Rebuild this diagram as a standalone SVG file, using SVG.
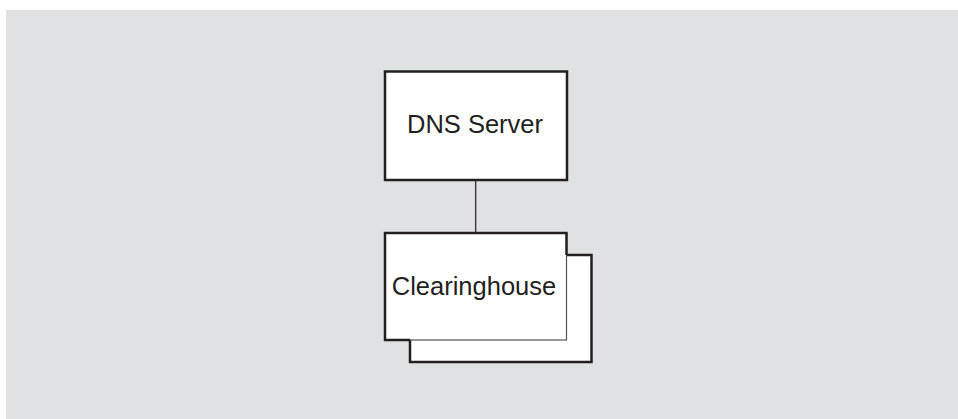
<svg xmlns="http://www.w3.org/2000/svg" width="958" height="419" viewBox="0 0 958 419">
<style>
.box{fill:#fff;stroke:#231f20;stroke-width:2.5}
.thin{fill:#fff;stroke:#555;stroke-width:1.2}
.edge{fill:none;stroke:#231f20;stroke-width:2.5}
.lbl{font-family:"Liberation Sans",Arial,sans-serif;font-size:25.5px;fill:#231f20;text-anchor:middle}
.conn{stroke:#231f20;stroke-width:1.2;fill:none}
</style>
<rect width="958" height="419" fill="#fff"/>
<rect x="6" y="10" width="952" height="409" fill="#e0e1e3"/>
<g id="connectors">
<line class="conn" x1="475.7" y1="180" x2="475.7" y2="233"/>
</g>
<g id="dns-server">
<rect class="box" x="385" y="71.5" width="182" height="108.5"/>
<text class="lbl" x="475" y="133.3">DNS Server</text>
</g>
<g id="clearinghouse">
<rect class="box" x="410" y="255" width="181.5" height="107"/>
<rect class="thin" x="385" y="233" width="181.5" height="107"/>
<path class="edge" d="M410,340 H385 V233 H566.5 V255"/>
<text class="lbl" x="474" y="295">Clearinghouse</text>
</g>
</svg>
